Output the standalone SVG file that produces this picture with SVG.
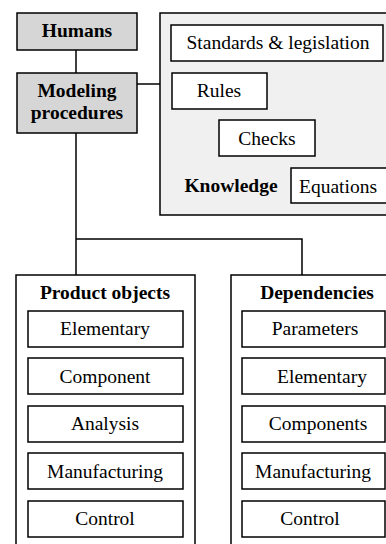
<svg xmlns="http://www.w3.org/2000/svg" width="386" height="544" viewBox="0 0 386 544">
<style>
rect{stroke:#000;stroke-width:1.5}
.g{fill:#d6d6d6}
.w{fill:#fff}
.k{fill:#f0f0f0}
text{font-family:'Liberation Serif','Times New Roman',Times,'DejaVu Serif',serif;font-size:19.5px;fill:#000;text-anchor:middle}
.b{font-weight:bold}
#connectors path{fill:none;stroke:#000;stroke-width:1.5}
</style>
<rect width="386" height="544" fill="#fff" style="stroke:none"/>
<g id="connectors">
<path d="M76 50V73"/>
<path d="M137 84H160"/>
<path d="M76 133V275"/>
<path d="M76 239H302V275"/>
<path d="M231 61V73"/>
<path d="M291 61V120"/>
<path d="M350 61V168"/>
</g>
<g font-family="Liberation Serif, serif">
<g id="humans"><rect class="g" x="17" y="13" width="120" height="37"/><text class="b" x="77" y="37">Humans</text></g>
<g id="modeling"><rect class="g" x="17" y="73" width="120" height="60"/><text class="b" x="77" y="97">Modeling</text><text class="b" x="77" y="119">procedures</text></g>
<g id="knowledge">
<rect class="k" x="160" y="13" width="240" height="202"/>
<text class="b" x="231" y="192">Knowledge</text>
</g>
<g id="standards"><rect class="w" x="171" y="25" width="212" height="36"/><text x="278" y="49">Standards &amp; legislation</text></g>
<g id="rules"><rect class="w" x="172" y="73" width="95" height="36"/><text x="219" y="97">Rules</text></g>
<g id="checks"><rect class="w" x="219" y="120" width="96" height="36"/><text x="267" y="145">Checks</text></g>
<g id="equations"><rect class="w" x="291" y="168" width="100" height="35"/><text x="338" y="193">Equations</text></g>
<g id="product-objects">
<rect class="w" x="16" y="275" width="179" height="280"/>
<text class="b" x="105" y="299">Product objects</text>
</g>
<g id="po-elementary"><rect class="w" x="28" y="311" width="155" height="36"/><text x="105" y="335">Elementary</text></g>
<g id="po-component"><rect class="w" x="28" y="358" width="155" height="36"/><text x="105" y="382.5">Component</text></g>
<g id="po-analysis"><rect class="w" x="28" y="406" width="155" height="36"/><text x="105" y="430">Analysis</text></g>
<g id="po-manufacturing"><rect class="w" x="28" y="453" width="155" height="36"/><text x="105" y="477.5">Manufacturing</text></g>
<g id="po-control"><rect class="w" x="28" y="501" width="155" height="36"/><text x="105" y="525">Control</text></g>
<g id="dependencies">
<rect class="w" x="231" y="275" width="170" height="280"/>
<text class="b" x="317" y="299">Dependencies</text>
</g>
<g id="dep-parameters"><rect class="w" x="242" y="311" width="143" height="36"/><text x="315" y="335">Parameters</text></g>
<g id="dep-elementary"><rect class="w" x="242" y="358" width="143" height="36"/><text x="322" y="382.5">Elementary</text></g>
<g id="dep-components"><rect class="w" x="242" y="406" width="143" height="36"/><text x="318" y="430">Components</text></g>
<g id="dep-manufacturing"><rect class="w" x="242" y="453" width="143" height="36"/><text x="313" y="477.5">Manufacturing</text></g>
<g id="dep-control"><rect class="w" x="242" y="501" width="143" height="36"/><text x="310" y="525">Control</text></g>
</g>
</svg>
